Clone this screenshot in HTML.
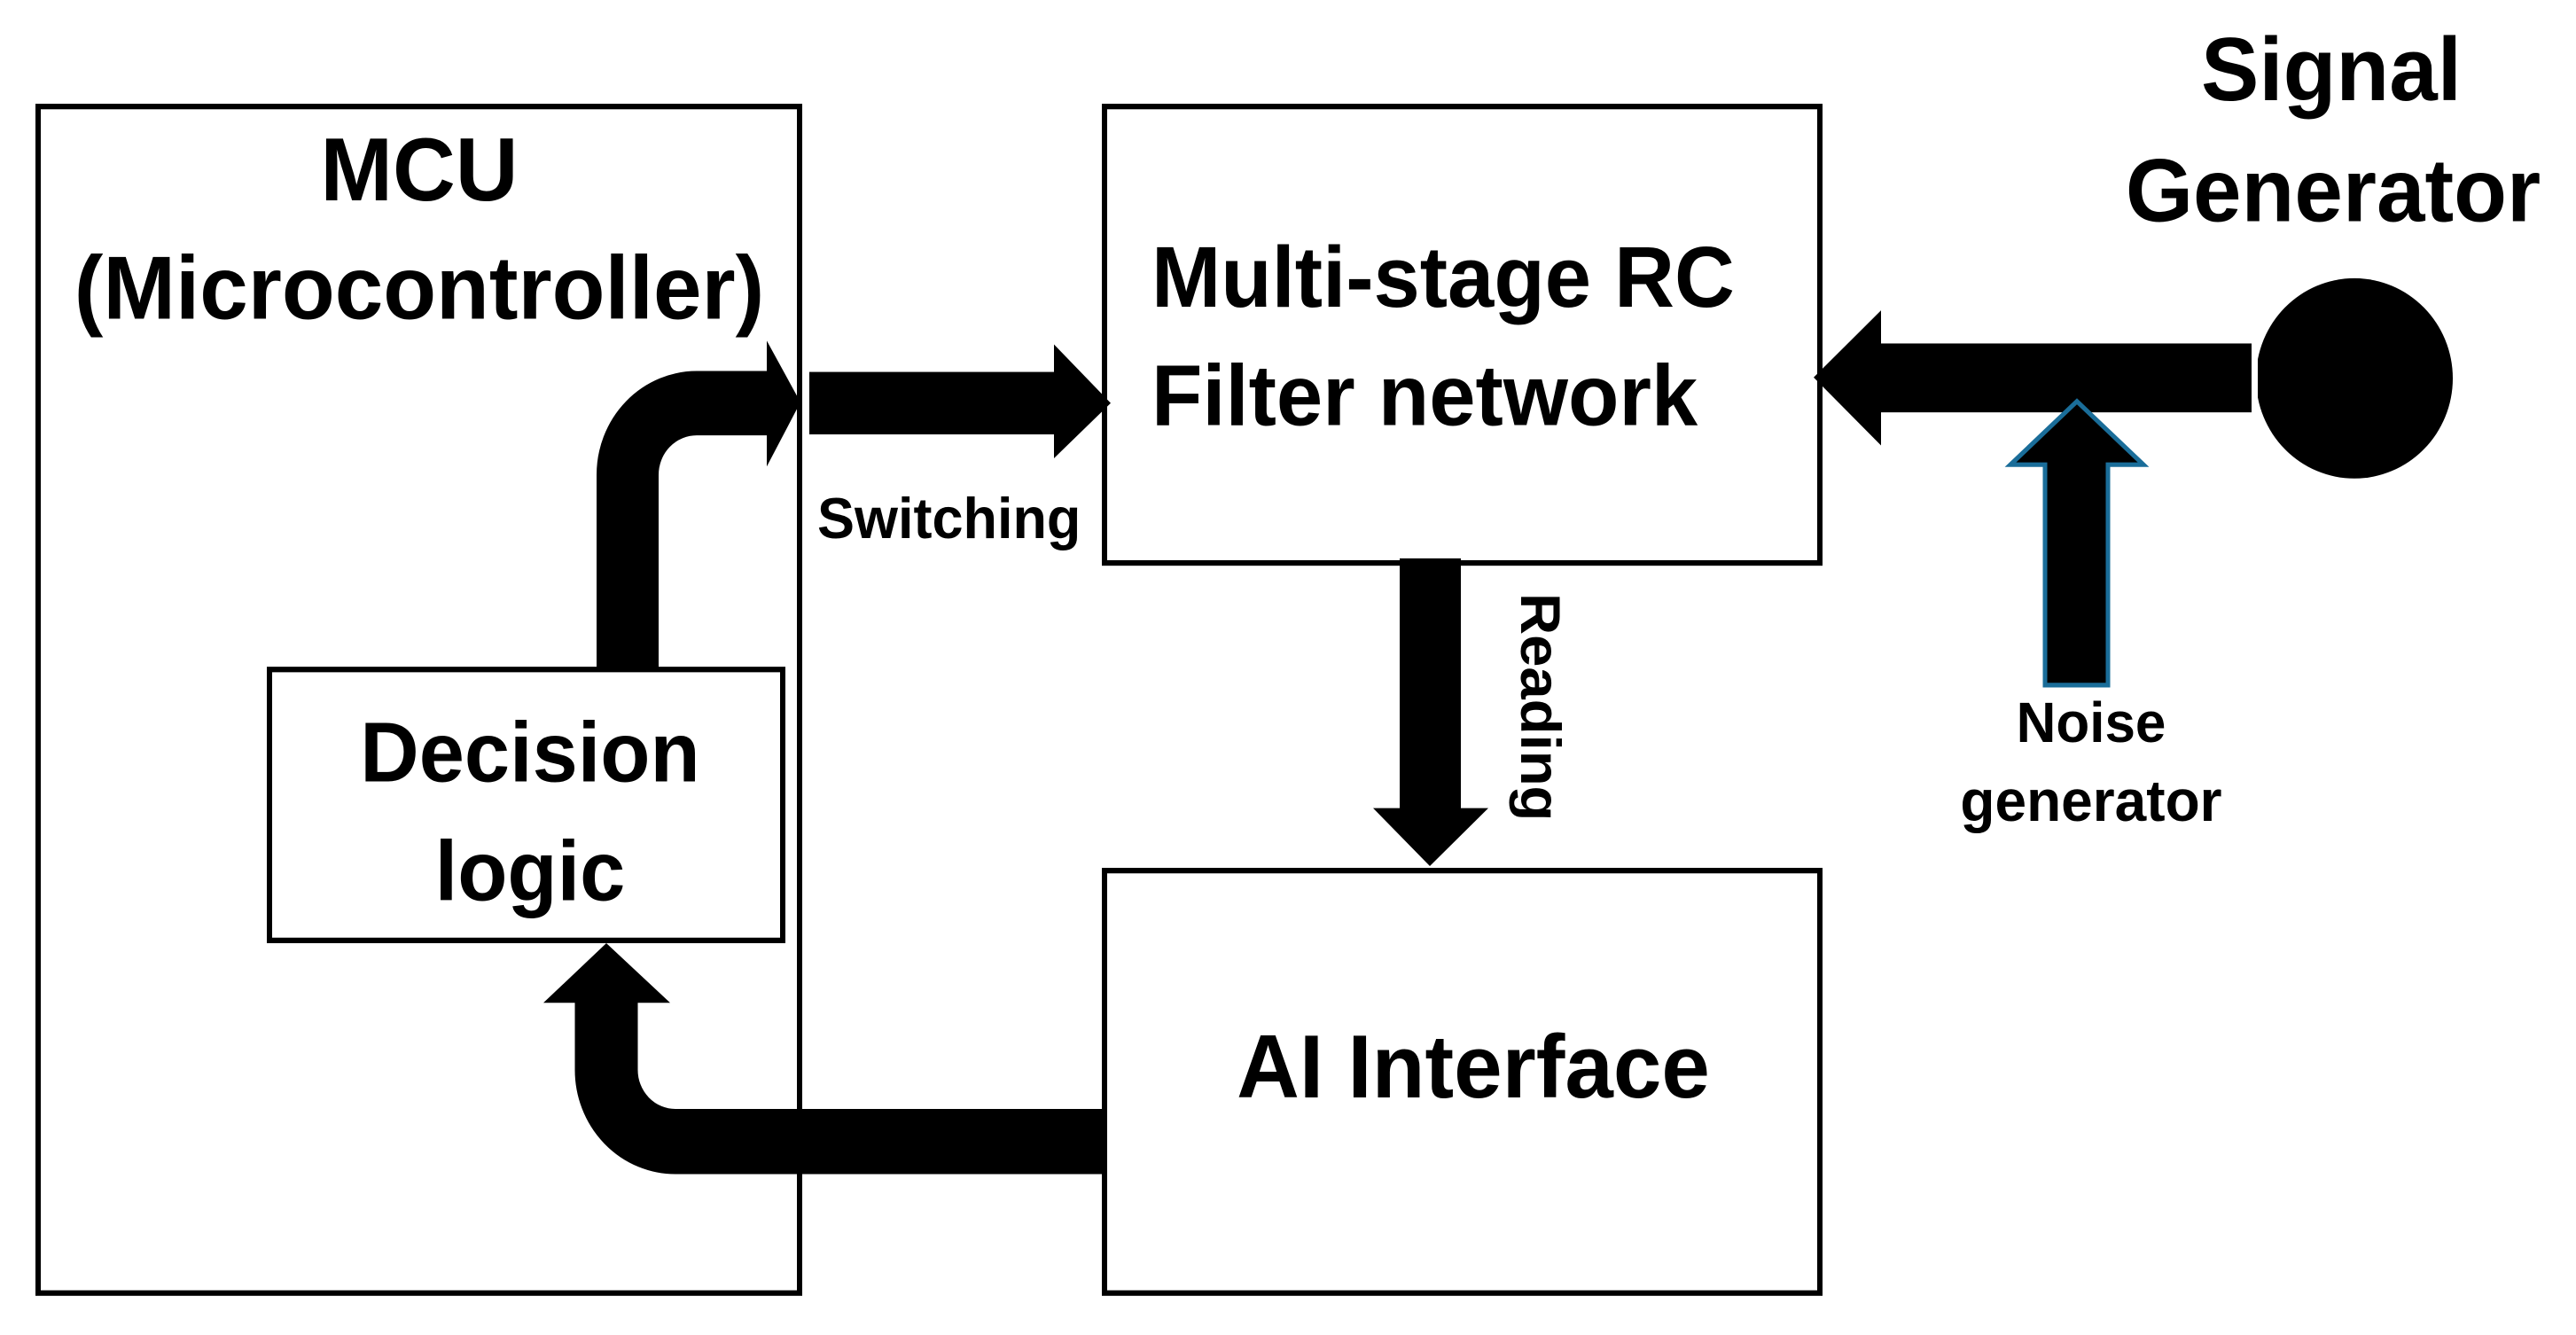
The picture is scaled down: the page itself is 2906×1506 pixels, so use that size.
<!DOCTYPE html>
<html><head><style>html,body{margin:0;padding:0;background:#fff}svg{display:block}</style></head><body>
<svg width="2906" height="1506" viewBox="0 0 2906 1506" xmlns="http://www.w3.org/2000/svg" font-family="Liberation Sans, sans-serif" font-weight="bold">
<rect width="2906" height="1506" fill="#fff"/>
<g transform="scale(1.0,1.036)">
<rect x="43" y="116" width="859" height="1292" fill="none" stroke="#000" stroke-width="6"/>
<rect x="1246" y="116" width="807" height="497" fill="none" stroke="#000" stroke-width="6"/>
<rect x="1246" y="948" width="807" height="460" fill="none" stroke="#000" stroke-width="6"/>
<path d="M1246 1243 H762 A78 78 0 0 1 684 1165 V1090" fill="none" stroke="#000" stroke-width="71"/>
<polygon points="613,1092 756,1092 684,1027" fill="#000"/>
<rect x="304" y="729" width="579" height="295" fill="#fff" stroke="#000" stroke-width="6"/>
<path d="M708 729 V517 A78 78 0 0 1 786 439 H868" fill="none" stroke="#000" stroke-width="70"/>
<polygon points="865,371 865,508 903,438" fill="#000"/>
<rect x="913" y="405" width="278" height="68" fill="#000"/>
<polygon points="1189,375 1189,499 1253,439" fill="#000"/>
<rect x="1579" y="608" width="69" height="274" fill="#000"/>
<polygon points="1549,880 1679,880 1613,943" fill="#000"/>
<text transform="translate(1716,770) rotate(90)" font-size="63" text-anchor="middle">Reading</text>
<ellipse cx="2656" cy="412" rx="111" ry="109" fill="#000"/>
<rect x="2537" y="360" width="10" height="100" fill="#fff"/>
<rect x="2122" y="374" width="418" height="75" fill="#000"/>
<polygon points="2122,338 2122,485 2046,411" fill="#000"/>
<polygon points="2307,746 2378,746 2378,506 2418,506 2343,437 2268,506 2307,506" fill="#000" stroke="#1a6d99" stroke-width="5"/>
<text x="473" y="218" font-size="98" text-anchor="middle">MCU</text>
<text x="473" y="347" font-size="98" text-anchor="middle">(Microcontroller)</text>
<text x="598" y="851" font-size="92" text-anchor="middle">Decision</text>
<text x="598" y="980" font-size="92" text-anchor="middle">logic</text>
<text x="922" y="586" font-size="63">Switching</text>
<text x="1299" y="334" font-size="94">Multi-stage RC</text>
<text x="1299" y="463" font-size="94">Filter network</text>
<text x="1662" y="1195" font-size="98" text-anchor="middle">AI Interface</text>
<text x="2630" y="109" font-size="98" text-anchor="middle">Signal</text>
<text x="2632" y="241" font-size="98" text-anchor="middle">Generator</text>
<text x="2359" y="808" font-size="62" text-anchor="middle">Noise</text>
<text x="2359" y="894" font-size="64" text-anchor="middle">generator</text>
</g>
</svg>
</body></html>
